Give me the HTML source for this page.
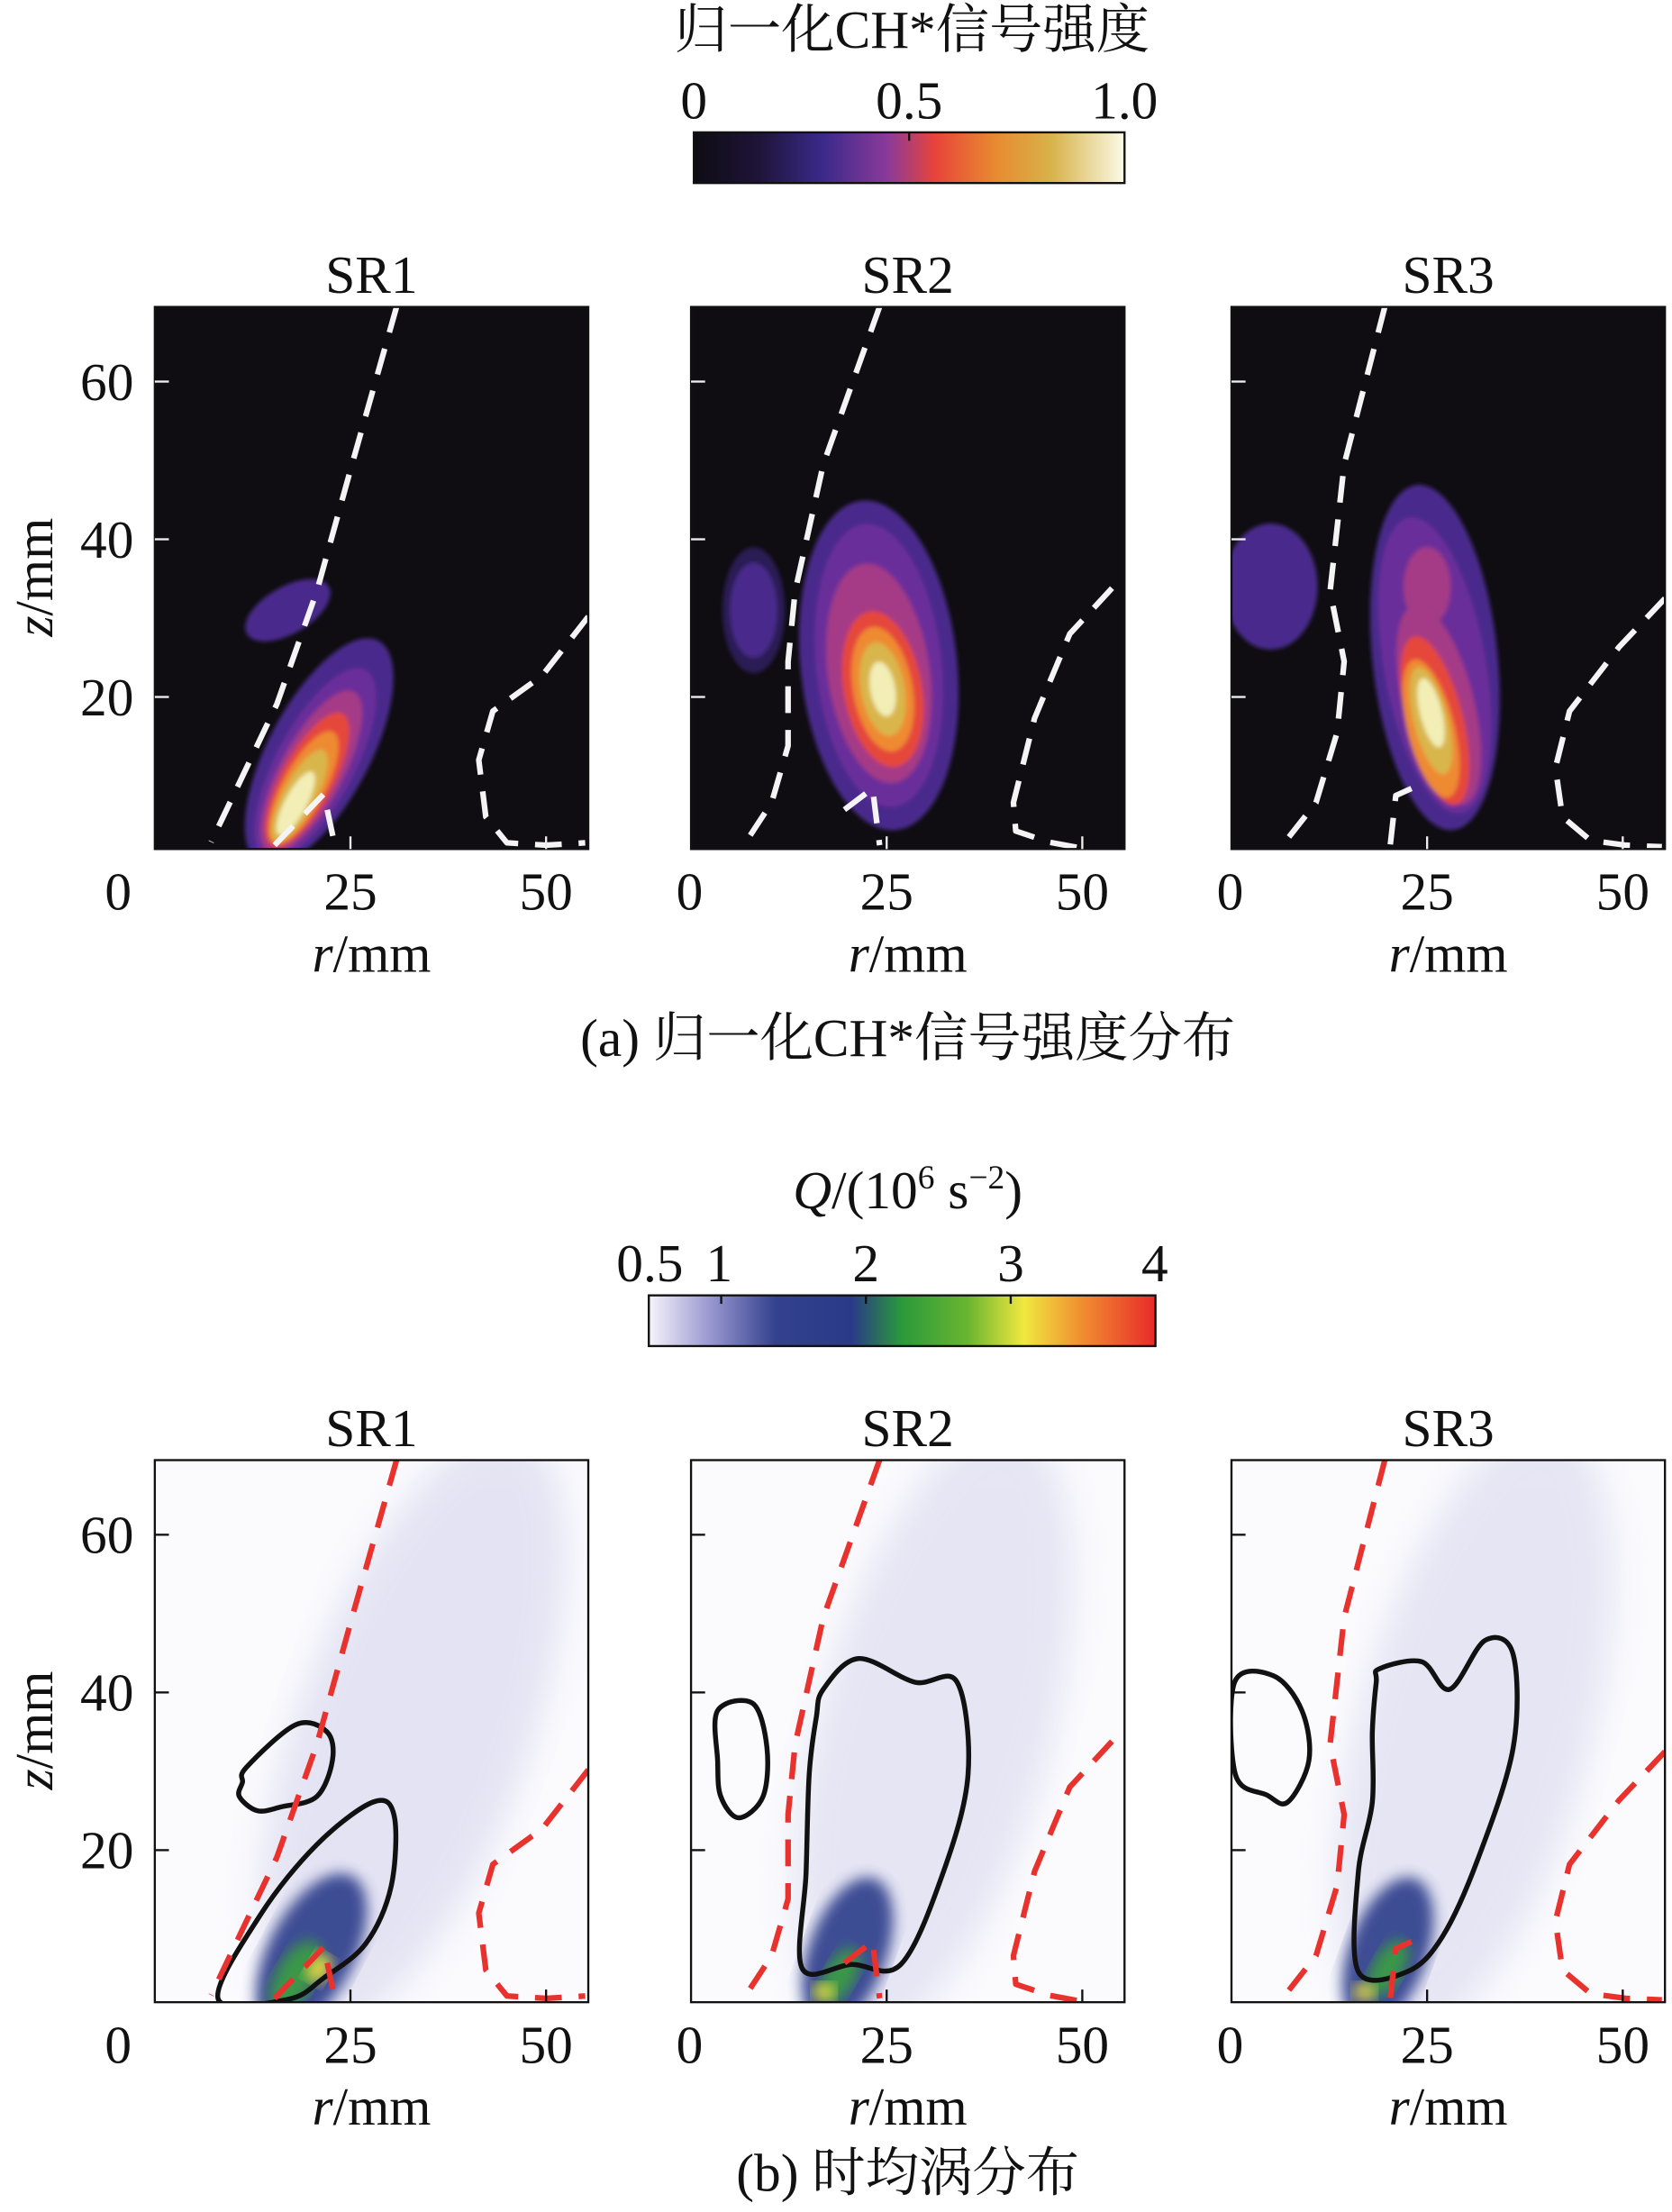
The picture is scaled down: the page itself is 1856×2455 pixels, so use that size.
<!DOCTYPE html>
<html><head><meta charset="utf-8">
<style>
html,body{margin:0;padding:0;background:#fff;}
svg{display:block;}
text{font-family:"Liberation Serif","Noto Serif CJK SC",serif;fill:#111;}
</style></head>
<body>
<svg id="fig" width="1856" height="2455" viewBox="0 0 1188 1571" preserveAspectRatio="none" xmlns="http://www.w3.org/2000/svg">
<defs>
<linearGradient id="gradA" x1="0" x2="1" y1="0" y2="0">
<stop offset="0" stop-color="#0e0c12"/><stop offset="0.15" stop-color="#1e1438"/><stop offset="0.3" stop-color="#3b2a8a"/><stop offset="0.45" stop-color="#8a3a9a"/><stop offset="0.56" stop-color="#e8443a"/><stop offset="0.7" stop-color="#e88a30"/><stop offset="0.83" stop-color="#d8b24a"/><stop offset="1" stop-color="#fafae6"/>
</linearGradient>
<linearGradient id="gradB" x1="0" x2="1" y1="0" y2="0">
<stop offset="0" stop-color="#f6f4fb"/><stop offset="0.12" stop-color="#9a98d0"/><stop offset="0.25" stop-color="#33418e"/><stop offset="0.4" stop-color="#2a3a88"/><stop offset="0.5" stop-color="#2a9a3a"/><stop offset="0.63" stop-color="#6ab530"/><stop offset="0.74" stop-color="#f0e840"/><stop offset="0.86" stop-color="#f08a30"/><stop offset="1" stop-color="#e82a2a"/>
</linearGradient>
<filter id="blur3"><feGaussianBlur stdDeviation="1.6"/></filter>
<filter id="blur5"><feGaussianBlur stdDeviation="5"/></filter>
<filter id="blur10"><feGaussianBlur stdDeviation="12"/></filter>
</defs>

<text x="648" y="34" font-size="38" text-anchor="middle">归一化CH*信号强度</text>
<g id="cbA">
<rect x="493" y="94" width="306" height="36" fill="url(#gradA)" stroke="#111" stroke-width="1.5"/>
</g>
<text x="645" y="858" font-size="38" text-anchor="middle"><tspan font-style="italic">Q</tspan>/(10<tspan dy="-14" font-size="24">6</tspan><tspan dy="14"> s</tspan><tspan dy="-14" font-size="24">−2</tspan><tspan dy="14">)</tspan></text>
<g id="cbB">
<rect x="461" y="920" width="360" height="36" fill="url(#gradB)" stroke="#111" stroke-width="1.5"/>
</g>

<g id="panels"></g>

<text x="645" y="750" font-size="38" text-anchor="middle">(a) 归一化CH*信号强度分布</text>
<text x="645" y="1556" font-size="38" text-anchor="middle">(b) 时均涡分布</text>
</svg>

<script>
// ---- data ----
const panelNames = ["SR1","SR2","SR3"];
const rTicks = [0,25,50];
const zTicks = [20,40,60];
const cbATicks = [0,0.5,1.0];
const cbATickLabels = ["0","0.5","1.0"];
const cbBTicks = [0.5,1,2,3,4];
const cbBTickLabels = ["0.5","1","2","3","4"];
const chColors = ["#2a1a55","#4a2a8c","#6a2f9a","#a53a86","#e5463a","#ee8a32","#d9b64c","#f2eeb6"];
// CH* blobs: [r, z, halfLength(mm), halfWidth(mm), angle(deg), level]
const chSR1 = [[17,31,6,3,-30,1],[21,13,16,6.5,-62,1],[20.5,11.5,13.5,5,-62,2],[20,10.5,11.5,4,-62,3],[19.5,9.5,9.5,3.3,-62,4],[19,8.5,8,2.7,-62,5],[18.5,7.5,6.5,2.1,-62,6],[18,6.5,4.5,1.4,-62,7]];
const chSR2 = [[8,31,8,4,-90,0],[8,31,6,3,-90,1],[24,24,21,10,-96,1],[24,24,18,8,-96,2],[24,23,14,6.5,-98,3],[24.5,21,10,5,-100,4],[24.5,21,8,3.8,-100,5],[24.5,21,6,2.8,-100,6],[24.5,21,3.5,1.6,-100,7]];
const chSR3 = [[5,34,8,6,-90,1],[26,25,22,8,-96,1],[26,24,19,6.5,-100,2],[25,34,5,3,-90,3],[26.5,19,13,4.5,-104,3],[26,17,11,3.6,-104,4],[25.5,16,9,3,-104,5],[25.5,17,7,2.2,-104,6],[25.5,18,4.5,1.4,-104,7]];
const chData = [chSR1, chSR2, chSR3];
// Q field blobs: [r, z, halfLength, halfWidth, angle, color, opacity]
const qSR1 = [[33,35,40,15,-70,"#c9c8e6",0.45],[20,7,11,5.5,-62,"#34448f",0.95],[18,4,5,2.5,-60,"#3aa040",0.9],[21,5,2,1.5,-60,"#f0e040",0.9]];
const qSR2 = [[31,35,40,15,-75,"#c9c8e6",0.42],[20,7,10,5,-70,"#34448f",0.95],[19,4,4,2,-60,"#3aa040",0.9],[17,2,1.5,1.2,0,"#f0e040",0.9]];
const qSR3 = [[31,35,40,15,-75,"#c9c8e6",0.42],[20,7,10,5,-70,"#34448f",0.95],[20,5,4,2,-60,"#3aa040",0.9],[17,2,1.5,1.2,0,"#f0e040",0.9]];
const qData = [qSR1,qSR2,qSR3];
// dashed boundary lines [r,z]
const dashL = [
 [[30.9,69.5],[25.2,49.5],[20.7,33.4],[15.6,19.1],[7.2,1.6]],
 [[24.1,69.5],[16.9,49.5],[13.3,33.4],[12.4,24.5],[12.4,13.8],[10.3,6.6],[7,1.6]],
 [[19.6,69.5],[14.4,49.5],[12.6,33.4],[14.4,24.5],[13.5,15.5],[10.8,6.6],[6.6,1.3]]];
const dashR = [
 [[55.4,30.2],[49.5,22.7],[43.2,18.2],[41.4,12],[42.3,4.8],[45,1.5],[50,1.2],[55,1.5]],
 [[53.8,33.8],[48.4,28],[43.9,17.3],[41.2,6.6],[41.5,3],[45.7,1.6],[50,0.8]],
 [[55.4,32.5],[49.5,26.3],[43.2,18.2],[41.4,11],[42.3,4.8],[45.9,1.8],[50.4,1.2],[55,1]]];
const dashI = [
 [[15.3,1.2],[19,5],[21.6,7.7],[23,1.2]],
 [[19.6,5.7],[23.2,8.4],[24.1,1.2]],
 [[20.3,1.3],[21,7.5],[23,8.4]]];
// black Q contours
const contours = [
 [[[11.7,30.5],[18,35.9],[22,35],[22.7,31.4],[20.7,26.8],[16.2,25.5],[13.1,25],[10.8,26.8],[11.2,28.6]],
  [[8.1,1.1],[13.5,11.8],[20.7,20.7],[27.9,26.1],[30.6,24.3],[30.2,15.4],[27,8.2],[21.6,3.8],[17.1,1.1]]],
 [[[3.4,37.7],[7.9,38.6],[9.7,33],[9.2,26.8],[6.1,24.1],[3.8,26.8],[3.4,31.3]],
  [[16.9,40.4],[21.4,44.3],[28.6,41.3],[34,41.3],[35.4,29.6],[32.2,17.1],[26.8,5.5],[20.5,5.5],[14.2,5],[14.7,17.1],[15.1,29.6],[16,36.8]]],
 [[[0.4,41.3],[5.4,42.1],[9,37.7],[9.9,31.4],[7.2,26.1],[4.5,27],[0.5,29.6]],
  [[18.9,43],[24.3,43.9],[27.9,40.4],[32.4,46.6],[36,44.8],[36,33],[31.5,18.9],[27,9.1],[22.5,4.6],[16.2,4.6],[16.2,17.1],[18,26.1],[18,35],[18.5,41.3]]]];

// ---- layout ----
const NS="http://www.w3.org/2000/svg";
const svg=document.getElementById('fig');
const panelsG=document.getElementById('panels');
const lefts=[110,491,875];
const PW=308, PXPERR=139/25, PXPERZ=5.6;
const rowTop=[218,1037], rowZ0=[607,1426];
function mk(tag,attrs,parent){const e=document.createElementNS(NS,tag);for(const k in attrs)e.setAttribute(k,attrs[k]);(parent||panelsG).appendChild(e);return e;}
function path(pts,xs,ys,closed){
  const P=pts.map(p=>[xs(p[0]),ys(p[1])]);
  if(!closed){return "M"+P.map(p=>p.join(",")).join("L");}
  let d="M"+P[0].join(",");const n=P.length;
  for(let i=0;i<n;i++){const p0=P[(i-1+n)%n],p1=P[i],p2=P[(i+1)%n],p3=P[(i+2)%n];
    const c1=[p1[0]+(p2[0]-p0[0])/6,p1[1]+(p2[1]-p0[1])/6],c2=[p2[0]-(p3[0]-p1[0])/6,p2[1]-(p3[1]-p1[1])/6];
    d+="C"+c1.join(",")+" "+c2.join(",")+" "+p2.join(",");}
  return d+"Z";
}

(function(){
  const cbA=document.getElementById('cbA'), cbB=document.getElementById('cbB');
  const xa=v=>493+v*306, xb=v=>461+(v-0.5)/3.5*360;
  cbATicks.forEach((v,i)=>{
    const t=mk('text',{x:xa(v),y:84,'font-size':38,'text-anchor':'middle'},cbA);t.textContent=cbATickLabels[i];
    
    
    if(i===1){mk('line',{x1:xa(v),x2:xa(v),y1:94,y2:100,stroke:'#111','stroke-width':1.5},cbA);}
  });
  cbBTicks.forEach((v,i)=>{
    const t=mk('text',{x:xb(v),y:910,'font-size':38,'text-anchor':i===0?'start':(i===4?'end':'middle')},cbB);
    if(i===0)t.setAttribute('x',438);
    if(i===1)t.setAttribute('x',511);
    if(i===4)t.setAttribute('x',830);
    t.textContent=cbBTickLabels[i];
    
    
    if(i>0&&i<4){mk('line',{x1:xb(v),x2:xb(v),y1:920,y2:926,stroke:'#111','stroke-width':1.5},cbB);}
  });
})();

for(let row=0;row<2;row++){
  for(let p=0;p<3;p++){
    const L=lefts[p], top=rowTop[row], z0=rowZ0[row];
    const xs=r=>L+r*PXPERR, ys=z=>z0-z*PXPERZ;
    const bottom=top+385;
    const g=mk('g',{});
    
    
    const cid='clip'+row+p;
    const cp=mk('clipPath',{id:cid},g);mk('rect',{x:L,y:top,width:PW,height:bottom-top},cp);
    const inner=mk('g',{'clip-path':'url(#'+cid+')'},g);
    mk('rect',{x:L,y:top,width:PW,height:bottom-top,fill:row===0?'#0f0d11':'#fbfbfe'},inner);
    if(row===0){
      const hg=mk('g',{filter:'url(#blur3)'},inner);
      chData[p].forEach(b=>{
        const e=mk('ellipse',{cx:xs(b[0]),cy:ys(b[1]),rx:b[2]*PXPERZ,ry:b[3]*PXPERR,fill:chColors[b[5]],transform:'rotate('+b[4]+' '+xs(b[0])+' '+ys(b[1])+')'},hg);
        
        
      });
    } else {
      qData[p].forEach((b,i)=>{
        const e=mk('ellipse',{cx:xs(b[0]),cy:ys(b[1]),rx:b[2]*PXPERZ,ry:b[3]*PXPERR,fill:b[5],opacity:b[6],filter:i===0?'url(#blur10)':'url(#blur5)',transform:'rotate('+b[4]+' '+xs(b[0])+' '+ys(b[1])+')'},inner);
        
        
      });
      contours[p].forEach(c=>{
        const e=mk('path',{d:path(c,xs,ys,true),fill:'none',stroke:'#111','stroke-width':3.5},inner);
        
        
      });
    }
    const dc=row===0?'#f4f4f4':'#e8322e';
    [dashL[p],dashR[p],dashI[p]].forEach(d=>{
      const e=mk('path',{d:path(d,xs,ys,false),fill:'none',stroke:dc,'stroke-width':4,'stroke-dasharray':'19,12','stroke-linejoin':'round'},inner);
      
      
    });
    mk('rect',{x:L,y:top,width:PW,height:bottom-top,fill:'none',stroke:'#111','stroke-width':1.5},g);
    const tc=row===0?'#eee':'#111';
    rTicks.forEach(v=>{
      if(v>0)mk('line',{x1:xs(v),x2:xs(v),y1:bottom,y2:bottom-9,stroke:tc,'stroke-width':1.5},g);
      const t=mk('text',{x:v===0?xs(0)-26+(p?25:0):xs(v),y:bottom+43,'font-size':38,'text-anchor':'middle'},g);
      t.textContent=v;
      
      
    });
    zTicks.forEach(v=>{
      mk('line',{x1:L,x2:L+10,y1:ys(v),y2:ys(v),stroke:tc,'stroke-width':1.5},g);
      if(p===0){const t=mk('text',{x:95,y:ys(v)+13,'font-size':38,'text-anchor':'end'},g);t.textContent=v;
        
        }
    });
    const tt=mk('text',{x:L+PW/2,y:top-10,'font-size':38,'text-anchor':'middle'},g);tt.textContent=panelNames[p];
    
    
    const xl=mk('text',{x:L+PW/2,y:bottom+87,'font-size':38,'text-anchor':'middle'},g);
    xl.innerHTML='<tspan font-style="italic">r</tspan>/mm';
    
    
    if(p===0){const yl=mk('text',{x:0,y:0,'font-size':38,'text-anchor':'middle',transform:'translate(37,'+(top+192)+') rotate(-90)'},g);
      yl.innerHTML='<tspan font-style="italic">z</tspan>/mm';
      
      }
  }
}
</script>
</body></html>
